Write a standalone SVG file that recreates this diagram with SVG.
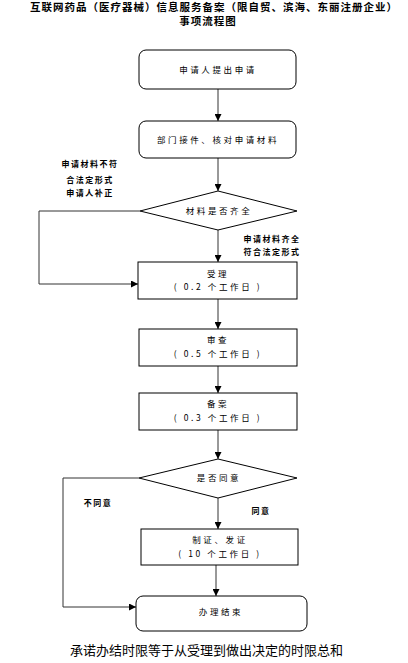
<svg xmlns="http://www.w3.org/2000/svg" width="408" height="663" viewBox="0 0 408 663">
<style>
.t{font-family:"Noto Sans CJK SC","Liberation Sans",sans-serif;fill:#000}
.title{font-size:10.5px;font-weight:bold;letter-spacing:1px}
.n{font-size:8.5px;letter-spacing:2.6px;text-anchor:middle}
.lb{font-size:8px;font-weight:bold;letter-spacing:1.5px;text-anchor:middle}
.box{fill:#fff;stroke:#000;stroke-width:1}
.ln{fill:none;stroke:#333;stroke-width:1}
</style>
<defs>
<marker id="ah" viewBox="0 0 10 10" refX="10" refY="5" markerWidth="7" markerHeight="7" orient="auto" markerUnits="userSpaceOnUse">
<path d="M0,0 L10,5 L0,10 z" fill="#000"/>
</marker>
</defs>
<rect width="408" height="663" fill="#fff"/>
<g id="title">
<text class="t title" x="30" y="11">互联网药品（医疗器械）信息服务备案（限自贸、滨海、东丽注册企业）</text>
<text class="t title" x="208" y="25" text-anchor="middle" letter-spacing="1.5">事项流程图</text>
</g>
<g id="connectors">
<line class="ln" x1="218" y1="89" x2="218" y2="121" marker-end="url(#ah)"/>
<line class="ln" x1="218" y1="158" x2="218" y2="191" marker-end="url(#ah)"/>
<line class="ln" x1="218" y1="230" x2="218" y2="262" marker-end="url(#ah)"/>
<polyline class="ln" points="140,211 39,211 39,284 138,284" marker-end="url(#ah)"/>
<line class="ln" x1="218" y1="299" x2="218" y2="329" marker-end="url(#ah)"/>
<line class="ln" x1="218" y1="366" x2="218" y2="393" marker-end="url(#ah)"/>
<line class="ln" x1="218" y1="430" x2="218" y2="459" marker-end="url(#ah)"/>
<line class="ln" x1="218" y1="498" x2="218" y2="529" marker-end="url(#ah)"/>
<polyline class="ln" points="139,478 63,478 63,607 136,607" marker-end="url(#ah)"/>
<line class="ln" x1="216" y1="565" x2="216" y2="596" marker-end="url(#ah)"/>
</g>
<g id="n1">
<rect class="box" x="139" y="50" width="157" height="39" rx="7"/>
<text class="t n" x="218" y="73">申请人提出申请</text>
</g>
<g id="n2">
<rect class="box" x="139" y="121" width="157" height="37" rx="7"/>
<text class="t n" x="218" y="143">部门接件、核对申请材料</text>
</g>
<g id="d1">
<polygon class="box" points="218,191 297,211 218,230 140,211"/>
<text class="t n" x="219" y="214">材料是否齐全</text>
</g>
<g id="lbl1">
<text class="t lb" x="90" y="167">申请材料不符</text>
<text class="t lb" x="90" y="183">合法定形式</text>
<text class="t lb" x="90" y="196">申请人补正</text>
</g>
<g id="lbl2">
<text class="t lb" x="272" y="242">申请材料齐全</text>
<text class="t lb" x="272" y="255">符合法定形式</text>
</g>
<g id="n3">
<rect class="box" x="138" y="262" width="159" height="37"/>
<text class="t n" x="218" y="277">受理</text>
<text class="t n" x="218" y="290">( 0.2 个工作日 )</text>
</g>
<g id="n4">
<rect class="box" x="139" y="329" width="158" height="37"/>
<text class="t n" x="218" y="343">审查</text>
<text class="t n" x="218" y="357">( 0.5 个工作日 )</text>
</g>
<g id="n5">
<rect class="box" x="139" y="393" width="158" height="37"/>
<text class="t n" x="218" y="407">备案</text>
<text class="t n" x="218" y="421">( 0.3 个工作日 )</text>
</g>
<g id="d2">
<polygon class="box" points="218,459 297,478 218,498 139,478"/>
<text class="t n" x="219" y="481">是否同意</text>
</g>
<g id="lbl3">
<text class="t lb" x="98" y="506">不同意</text>
</g>
<g id="lbl4">
<text class="t lb" x="261" y="514">同意</text>
</g>
<g id="n6">
<rect class="box" x="141" y="529" width="157" height="36"/>
<text class="t n" x="220" y="543">制证、发证</text>
<text class="t n" x="220" y="557">( 10 个工作日 )</text>
</g>
<g id="n7">
<rect class="box" x="136" y="596" width="171" height="35" rx="7"/>
<text class="t n" x="221" y="615">办理结束</text>
</g>
<g id="note">
<text class="t" x="70" y="655" font-size="13px">承诺办结时限等于从受理到做出决定的时限总和</text>
</g>
</svg>
